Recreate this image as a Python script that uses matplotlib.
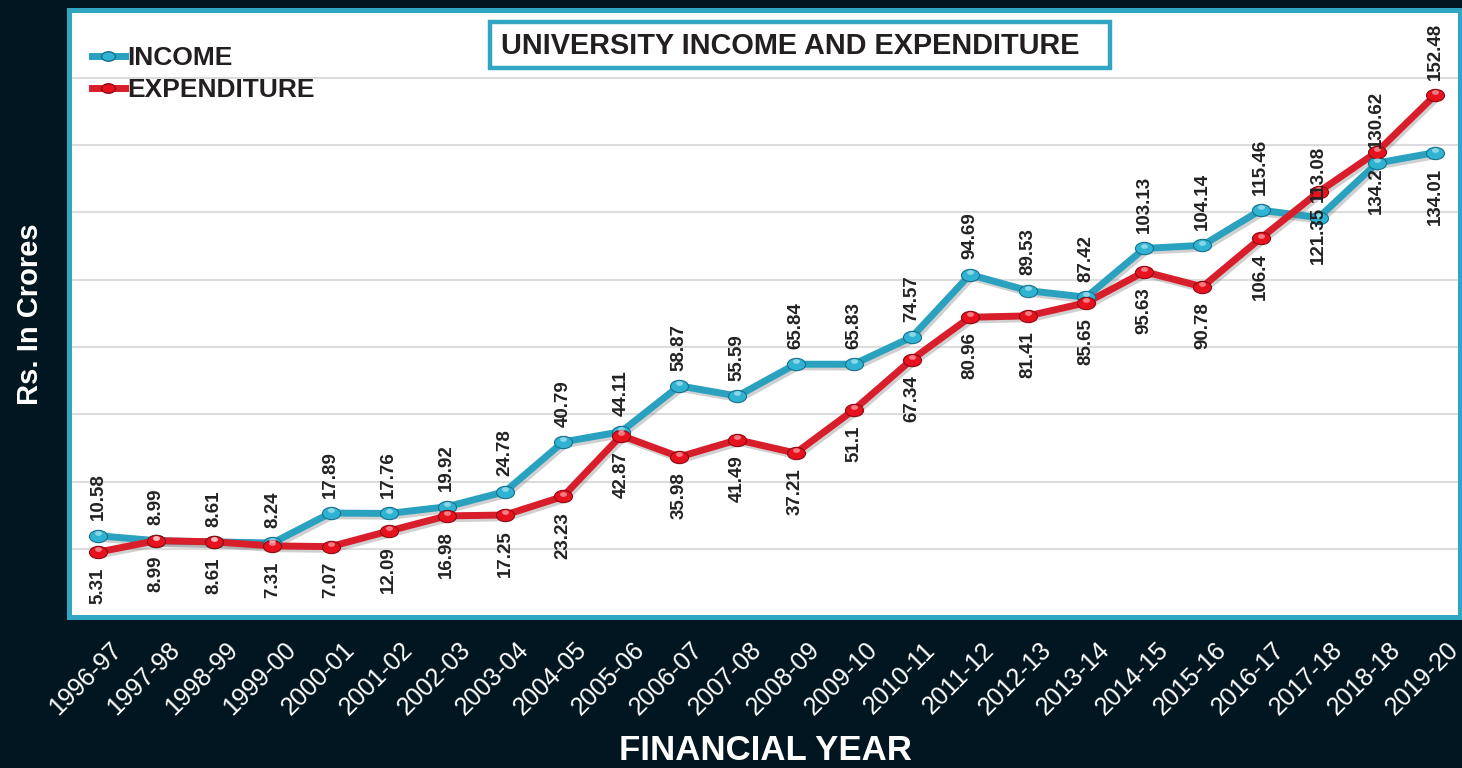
import matplotlib
matplotlib.use("Agg")
import matplotlib.pyplot as plt
import matplotlib.transforms as mtransforms
import matplotlib.patheffects as pe
from matplotlib.path import Path
from matplotlib.patches import Rectangle
from matplotlib.lines import Line2D
import numpy as np

plt.rcParams['font.family'] = ['Liberation Sans', 'DejaVu Sans']

years = ['1996-97', '1997-98', '1998-99', '1999-00', '2000-01', '2001-02', '2002-03',
         '2003-04', '2004-05', '2005-06', '2006-07', '2007-08', '2008-09', '2009-10',
         '2010-11', '2011-12', '2012-13', '2013-14', '2014-15', '2015-16', '2016-17',
         '2017-18', '2018-18', '2019-20']
income = [10.58, 8.99, 8.61, 8.24, 17.89, 17.76, 19.92, 24.78, 40.79, 44.11, 58.87, 55.59,
          65.84, 65.83, 74.57, 94.69, 89.53, 87.42, 103.13, 104.14, 115.46, 113.08, 130.62, 134.01]
expenditure = [5.31, 8.99, 8.61, 7.31, 7.07, 12.09, 16.98, 17.25, 23.23, 42.87, 35.98, 41.49,
               37.21, 51.1, 67.34, 80.96, 81.41, 85.65, 95.63, 90.78, 106.4, 121.35, 134.2, 152.48]
# label side per point: +1 above, -1 below
income_side = [1] * 23 + [-1]
exp_side = [-1] * 23 + [1]

bg = '#011620'
cyan = '#31a6c2'
blue_line = '#2aa2bf'
blue_face = '#2fb3d3'
red_line = '#d81e2b'
red_face = '#e8121f'

fig = plt.figure(figsize=(14.62, 7.68), dpi=100, facecolor=bg)
ax = fig.add_axes([0.0472, 0.1966, 0.9514, 0.7906])
ax.set_facecolor('white')

x = np.arange(len(years))

# ellipse marker, a bit wider than tall
circ = Path.unit_circle()
ell = Path(circ.vertices * np.array([1.0, 0.68]), circ.codes)

shadow = [pe.SimpleLineShadow(offset=(1.5, -2), shadow_color='#7a7a7a', alpha=0.35), pe.Normal()]

def draw_series(vals, line_c, face_c, edge_c):
    ax.plot(x, vals, color=line_c, lw=5, zorder=3, solid_capstyle='round', path_effects=shadow)
    ax.plot(x, vals, ls='none', marker=ell, ms=13, mfc=face_c, mec=edge_c, mew=0.8, zorder=4)
    hl = mtransforms.offset_copy(ax.transData, fig=fig, x=0, y=2, units='points')
    ax.plot(x, vals, ls='none', marker=ell, ms=5, mfc='white', mec='none', alpha=0.45,
            transform=hl, zorder=5)

draw_series(income, blue_line, blue_face, '#17708a')
draw_series(expenditure, red_line, red_face, '#8c0a12')

for vals, sides in [(income, income_side), (expenditure, exp_side)]:
    for xi, v, s in zip(x, vals, sides):
        ax.annotate(f'{v:g}', (xi, v), xytext=(0, 11 * s), textcoords='offset points',
                    rotation=90, ha='center', va='bottom' if s > 0 else 'top',
                    fontsize=13.5, fontweight='bold', color='#222222', zorder=6)

ax.set_xlim(-0.5, 23.43)
ax.set_ylim(-15.6, 180)
ax.set_yticks(np.arange(8) * 21.7 + 6.3)
ax.set_yticklabels([])
ax.grid(axis='y', color='#dcdcdc', lw=1.5)
ax.set_axisbelow(True)
ax.tick_params(axis='y', length=0)

ax.set_xticks(x)
ax.set_xticklabels(years, rotation=45, ha='right', va='center', rotation_mode='anchor',
                   fontsize=18, color='white')
ax.tick_params(axis='x', length=0, pad=21)
shift = mtransforms.ScaledTranslation(20 / 100, 0, fig.dpi_scale_trans)
for lab in ax.get_xticklabels():
    lab.set_transform(lab.get_transform() + shift)

for sp in ax.spines.values():
    sp.set_color(cyan)
    sp.set_linewidth(3.6)

# legend
handles = [Line2D([], [], color=blue_line, lw=5, marker=ell, ms=10, mfc=blue_face, mec='#17708a'),
           Line2D([], [], color=red_line, lw=5, marker=ell, ms=10, mfc=red_face, mec='#8c0a12')]
leg = ax.legend(handles, ['INCOME', 'EXPENDITURE'], loc='upper left',
                bbox_to_anchor=(92 / 1462, 1 - 46 / 768), bbox_transform=fig.transFigure,
                frameon=False, borderpad=0, borderaxespad=0, handlelength=1.25,
                handletextpad=0.1, labelspacing=0.3, prop={'size': 19, 'weight': 'bold'})
for t in leg.get_texts():
    t.set_color('#231f20')

# title box
fig.add_artist(Rectangle((490 / 1462, 1 - 68 / 768), 620 / 1462, 46 / 768,
                         transform=fig.transFigure, fill=True, fc='white', ec=cyan, lw=3.2))
fig.text(790 / 1462, 1 - 46 / 768, 'UNIVERSITY INCOME AND EXPENDITURE', ha='center', va='center',
         fontsize=20.8, fontweight='bold', color='#231f20')

fig.text(30 / 1462, 1 - 314 / 768, 'Rs. In Crores', rotation=90, ha='center', va='center',
         fontsize=21, fontweight='bold', color='white')
fig.text(765 / 1462, 1 - 750 / 768, 'FINANCIAL YEAR', ha='center', va='center',
         fontsize=25, fontweight='bold', color='white')

fig.savefig('out.png', dpi=100, facecolor=bg)
